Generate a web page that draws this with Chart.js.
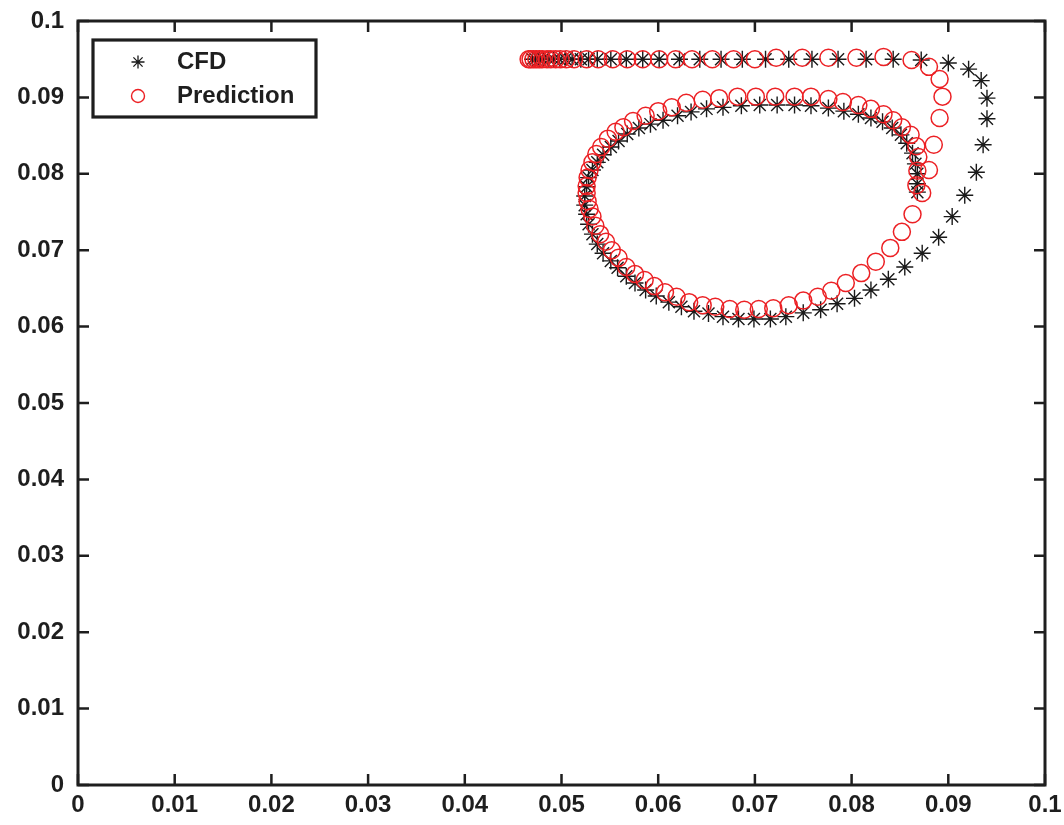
<!DOCTYPE html>
<html>
<head>
<meta charset="utf-8">
<script src="https://cdn.jsdelivr.net/npm/chart.js@4.4.1/dist/chart.umd.min.js"></script>
<style>
  html, body { margin: 0; padding: 0; background: #fff; }
</style>
</head>
<body>
<canvas id="trajectoryCanvas" width="1064" height="825"></canvas>
<script>
// CFD trajectory (black asterisks)
const cfdX = [0.0470, 0.0473, 0.0477, 0.0481, 0.0487, 0.0492, 0.0498, 0.0504, 0.0511, 0.0520,
              0.0528, 0.0537, 0.0551, 0.0567, 0.0584, 0.0601, 0.0622, 0.0643, 0.0665, 0.0687,
              0.0711, 0.0735, 0.0759, 0.0786, 0.0815, 0.0843, 0.0872, 0.0900, 0.0921, 0.0934,
              0.0940, 0.0940, 0.0936, 0.0929, 0.0917, 0.0904, 0.0890, 0.0873, 0.0855, 0.0838,
              0.0820, 0.0803, 0.0785, 0.0768, 0.0750, 0.0732, 0.0716, 0.0699, 0.0683, 0.0667,
              0.0652, 0.0637, 0.0624, 0.0611, 0.0598, 0.0587, 0.0576, 0.0567, 0.0558, 0.0551,
              0.0543, 0.0537, 0.0532, 0.0528, 0.0526, 0.0524, 0.0524, 0.0526, 0.0528, 0.0532,
              0.0537, 0.0543, 0.0551, 0.0559, 0.0568, 0.0580, 0.0592, 0.0605, 0.0620, 0.0634,
              0.0650, 0.0667, 0.0686, 0.0705, 0.0723, 0.0741, 0.0758, 0.0776, 0.0792, 0.0807,
              0.0820, 0.0832, 0.0842, 0.0851, 0.0857, 0.0863, 0.0866, 0.0868, 0.0868, 0.0868];
const cfdY = [0.0950, 0.0950, 0.0950, 0.0950, 0.0950, 0.0950, 0.0950, 0.0950, 0.0950, 0.0950,
              0.0950, 0.0950, 0.0950, 0.0950, 0.0950, 0.0950, 0.0950, 0.0950, 0.0950, 0.0950,
              0.0950, 0.0950, 0.0950, 0.0950, 0.0950, 0.0950, 0.0949, 0.0945, 0.0937, 0.0922,
              0.0899, 0.0872, 0.0838, 0.0802, 0.0772, 0.0744, 0.0717, 0.0696, 0.0678, 0.0662,
              0.0648, 0.0637, 0.0630, 0.0622, 0.0618, 0.0613, 0.0610, 0.0610, 0.0610, 0.0613,
              0.0617, 0.0620, 0.0626, 0.0632, 0.0640, 0.0648, 0.0657, 0.0666, 0.0677, 0.0686,
              0.0696, 0.0708, 0.0721, 0.0734, 0.0747, 0.0759, 0.0771, 0.0783, 0.0795, 0.0805,
              0.0815, 0.0825, 0.0835, 0.0843, 0.0852, 0.0860, 0.0865, 0.0870, 0.0876, 0.0881,
              0.0885, 0.0887, 0.0889, 0.0890, 0.0890, 0.0890, 0.0889, 0.0886, 0.0882, 0.0878,
              0.0873, 0.0868, 0.0860, 0.0851, 0.0840, 0.0827, 0.0813, 0.0800, 0.0787, 0.0776];

// Predicted trajectory (red circles)
const predX = [0.0466, 0.0468, 0.0471, 0.0474, 0.0477, 0.0480, 0.0485, 0.0489, 0.0494, 0.0499,
               0.0505, 0.0513, 0.0526, 0.0538, 0.0553, 0.0568, 0.0584, 0.0601, 0.0618, 0.0635,
               0.0656, 0.0678, 0.0700, 0.0722, 0.0749, 0.0776, 0.0805, 0.0833, 0.0862, 0.0880,
               0.0891, 0.0894, 0.0891, 0.0885, 0.0880, 0.0873, 0.0863, 0.0852, 0.0840, 0.0825,
               0.0810, 0.0794, 0.0779, 0.0765, 0.0750, 0.0735, 0.0719, 0.0704, 0.0689, 0.0674,
               0.0659, 0.0646, 0.0632, 0.0619, 0.0607, 0.0596, 0.0586, 0.0576, 0.0567, 0.0559,
               0.0552, 0.0546, 0.0540, 0.0535, 0.0532, 0.0529, 0.0527, 0.0526, 0.0526, 0.0527,
               0.0529, 0.0532, 0.0536, 0.0541, 0.0548, 0.0556, 0.0564, 0.0574, 0.0587, 0.0600,
               0.0614, 0.0629, 0.0646, 0.0663, 0.0682, 0.0701, 0.0721, 0.0741, 0.0758, 0.0776,
               0.0791, 0.0807, 0.0820, 0.0833, 0.0843, 0.0852, 0.0861, 0.0867, 0.0869, 0.0868,
               0.0867];
const predY = [0.0950, 0.0950, 0.0950, 0.0950, 0.0950, 0.0950, 0.0950, 0.0950, 0.0950, 0.0950,
               0.0950, 0.0950, 0.0950, 0.0950, 0.0950, 0.0950, 0.0950, 0.0950, 0.0950, 0.0950,
               0.0950, 0.0950, 0.0950, 0.0952, 0.0952, 0.0952, 0.0952, 0.0953, 0.0949, 0.0940,
               0.0924, 0.0901, 0.0873, 0.0838, 0.0805, 0.0775, 0.0747, 0.0724, 0.0703, 0.0685,
               0.0670, 0.0657, 0.0647, 0.0639, 0.0634, 0.0628, 0.0624, 0.0623, 0.0622, 0.0623,
               0.0626, 0.0628, 0.0632, 0.0639, 0.0645, 0.0653, 0.0661, 0.0669, 0.0678, 0.0690,
               0.0700, 0.0711, 0.0721, 0.0732, 0.0744, 0.0754, 0.0764, 0.0775, 0.0784, 0.0795,
               0.0805, 0.0815, 0.0826, 0.0835, 0.0846, 0.0855, 0.0861, 0.0869, 0.0876, 0.0882,
               0.0887, 0.0893, 0.0897, 0.0899, 0.0901, 0.0901, 0.0901, 0.0901, 0.0901, 0.0898,
               0.0894, 0.0890, 0.0885, 0.0878, 0.0870, 0.0861, 0.0851, 0.0836, 0.0822, 0.0804,
               0.0785];

const tickValues = [0, 0.01, 0.02, 0.03, 0.04, 0.05, 0.06, 0.07, 0.08, 0.09, 0.1];
const seriesNames = ['CFD', 'Prediction'];

const axisColor = '#1e1e1e';
const cfdColor = '#1a1a1a';
const predColor = 'rgb(236, 32, 36)';
const fontFamily = "'Liberation Sans', Arial, Helvetica, sans-serif";

function toPoints(xs, ys) {
    return xs.map((x, i) => ({ x: x, y: ys[i] }));
}

function fmtTick(v) {
    return String(Number(v.toFixed(2)));
}

function drawStar(ctx, x, y, r) {
    ctx.beginPath();
    ctx.moveTo(x - r, y); ctx.lineTo(x + r, y);
    ctx.moveTo(x, y - r); ctx.lineTo(x, y + r);
    const d = r * 0.707;
    ctx.moveTo(x - d, y - d); ctx.lineTo(x + d, y + d);
    ctx.moveTo(x - d, y + d); ctx.lineTo(x + d, y - d);
    ctx.stroke();
}

// box, inward ticks and legend drawn the MATLAB way
const matlabFrame = {
    id: 'matlabFrame',
    afterDatasetsDraw(chart) {
        const { ctx, chartArea: a, scales } = chart;
        ctx.save();
        ctx.strokeStyle = axisColor;
        ctx.lineWidth = 2.5;
        const tl = 11;
        tickValues.forEach(v => {
            const px = scales.x.getPixelForValue(v);
            const py = scales.y.getPixelForValue(v);
            ctx.beginPath();
            ctx.moveTo(px, a.bottom); ctx.lineTo(px, a.bottom - tl);
            ctx.moveTo(px, a.top); ctx.lineTo(px, a.top + tl);
            ctx.moveTo(a.left, py); ctx.lineTo(a.left + tl, py);
            ctx.moveTo(a.right, py); ctx.lineTo(a.right - tl, py);
            ctx.stroke();
        });
        ctx.lineWidth = 3;
        ctx.strokeRect(a.left, a.top, a.right - a.left, a.bottom - a.top);

        // legend
        const lx = a.left + 15, ly = a.top + 19, lw = 223, lh = 77;
        ctx.fillStyle = '#fff';
        ctx.fillRect(lx, ly, lw, lh);
        ctx.lineWidth = 3.2;
        ctx.strokeRect(lx, ly, lw, lh);

        ctx.lineWidth = 1.3;
        ctx.strokeStyle = cfdColor;
        drawStar(ctx, lx + 45, ly + 22, 6.5);
        ctx.strokeStyle = predColor;
        ctx.lineWidth = 1.4;
        ctx.beginPath();
        ctx.arc(lx + 45, ly + 56, 6.5, 0, Math.PI * 2);
        ctx.stroke();

        ctx.fillStyle = axisColor;
        ctx.font = 'bold 24px ' + fontFamily;
        ctx.textBaseline = 'middle';
        ctx.textAlign = 'left';
        ctx.fillText(seriesNames[0], lx + 84, ly + 22);
        ctx.fillText(seriesNames[1], lx + 84, ly + 56);
        ctx.restore();
    }
};

const ctx = document.getElementById('trajectoryCanvas').getContext('2d');
const trajectoryChart = new Chart(ctx, {
    type: 'scatter',
    data: {
        datasets: [
            {
                label: seriesNames[0],
                data: toPoints(cfdX, cfdY),
                pointStyle: 'star',
                pointRadius: 8.5,
                borderColor: cfdColor,
                backgroundColor: cfdColor,
                pointBorderWidth: 1.4,
                order: 2
            },
            {
                label: seriesNames[1],
                data: toPoints(predX, predY),
                pointStyle: 'circle',
                pointRadius: 8.5,
                borderColor: predColor,
                backgroundColor: 'rgba(0,0,0,0)',
                pointBorderWidth: 1.5,
                order: 1
            }
        ]
    },
    options: {
        responsive: false,
        animation: false,
        devicePixelRatio: 1,
        layout: { padding: { top: 21, right: 19, left: 0, bottom: 0 } },
        plugins: {
            legend: { display: false },
            tooltip: { enabled: false }
        },
        scales: {
            x: {
                type: 'linear',
                min: 0,
                max: 0.1,
                afterBuildTicks: scale => { scale.ticks = tickValues.map(v => ({ value: v })); },
                afterFit: scale => {
                    scale.height = 40;
                    scale.paddingLeft = 0;
                    scale.paddingRight = 0;
                },
                ticks: {
                    autoSkip: false,
                    maxRotation: 0,
                    padding: 6,
                    color: axisColor,
                    font: { family: fontFamily, size: 24, weight: 'bold' },
                    callback: v => fmtTick(v)
                },
                grid: { drawOnChartArea: false, drawTicks: false },
                border: { display: false }
            },
            y: {
                type: 'linear',
                min: 0,
                max: 0.1,
                afterBuildTicks: scale => { scale.ticks = tickValues.map(v => ({ value: v })); },
                afterFit: scale => {
                    scale.width = 78;
                    scale.paddingTop = 0;
                    scale.paddingBottom = 0;
                },
                ticks: {
                    autoSkip: false,
                    padding: 14,
                    color: axisColor,
                    font: { family: fontFamily, size: 24, weight: 'bold' },
                    callback: v => fmtTick(v)
                },
                grid: { drawOnChartArea: false, drawTicks: false },
                border: { display: false }
            }
        }
    },
    plugins: [matlabFrame]
});
</script>
</body>
</html>
